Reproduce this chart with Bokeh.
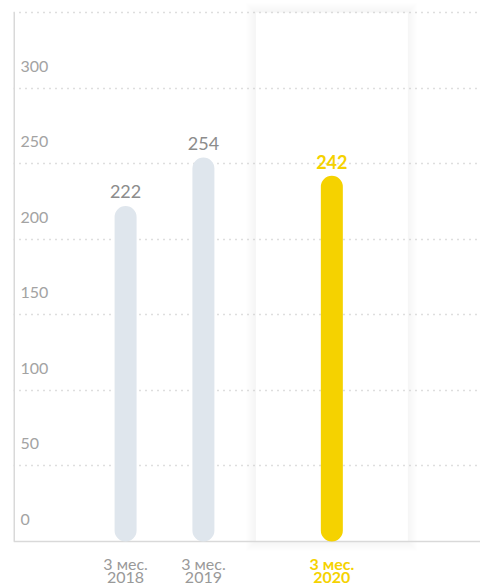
from bokeh.plotting import figure
from bokeh.models import ColumnDataSource, FactorRange, Range1d
from bokeh.transform import dodge
from bokeh.core.properties import value
from bokeh.embed import file_html
from bokeh.resources import INLINE

# ---- data ----
periods = ["3 мес.", "3 мес.", "3 мес."]
years = ["2018", "2019", "2020"]
values = [222, 254, 242]
ticks = [0, 50, 100, 150, 200, 250, 300]
grid_levels = [50, 100, 150, 200, 250, 300, 350]
current = "2020"

# ---- styles ----
GRAY_BAR = "#dfe6ed"
YELLOW = "#f5d200"
FONT = "Lato"
W, H = 480, 586
LEFT, TOP_PAD, BOTTOM_PAD = 13, 12, 45

factors = ["pad0", "2018", "2019", "pad1", "2020", "pad2"]
y_top = grid_levels[-1]
ppu = (H - TOP_PAD - BOTTOM_PAD) / y_top  # pixels per unit

p = figure(width=W, height=H, output_backend="svg", toolbar_location=None,
           x_range=FactorRange(factors=factors, range_padding=0),
           y_range=Range1d(-BOTTOM_PAD / ppu, y_top + TOP_PAD / ppu))
p.min_border_left = LEFT
p.min_border_right = 0
p.min_border_top = 0
p.min_border_bottom = 0
p.outline_line_color = None
p.grid.visible = False
p.xaxis.visible = False
p.yaxis.visible = False
p.background_fill_color = "white"
p.border_fill_color = "white"

past_idx = [i for i, y in enumerate(years) if y != current]
cur_idx = [i for i, y in enumerate(years) if y == current]

def make_src(idx):
    return ColumnDataSource(dict(year=[years[i] for i in idx],
                                 period=[periods[i] for i in idx],
                                 val=[values[i] for i in idx],
                                 label=[str(values[i]) for i in idx],
                                 base=[0] * len(idx),
                                 top=[y_top] * len(idx)))

past = make_src(past_idx)
cur = make_src(cur_idx)

unit = (W - LEFT) / len(factors)  # px per factor
past_x = dodge("year", -0.06, range=p.x_range)
cur_x = dodge("year", -0.41, range=p.x_range)

# highlight panel with soft shadow
panel_w = 152 / unit
for k in range(1, 11):
    p.vbar(x=cur_x, bottom=-k / ppu, top=y_top + k / ppu, width=panel_w + 2 * k / unit,
           source=cur, fill_color="black", fill_alpha=0.0035, line_color=None)
p.vbar(x=cur_x, bottom="base", top="top", width=panel_w, source=cur,
       fill_color="white", line_color=None)

# dotted grid lines
p.hspan(y=grid_levels, line_color="#bdbdbd", line_width=1.4, line_dash="1 5")

# axis lines
p.hspan(y=[0], line_color="#d9d9d9", line_width=1.5)
p.segment(x0=[0], y0=[0], x1=[0], y1=[y_top], line_color="#d9d9d9", line_width=3)

# bars
bar_w = 22 / unit
p.vbar(x=past_x, bottom="base", top="val", width=bar_w, source=past,
       fill_color=GRAY_BAR, line_color=None, border_radius=11)
p.vbar(x=cur_x, bottom="base", top="val", width=bar_w, source=cur,
       fill_color=YELLOW, line_color=None, border_radius=11)

# value labels
p.text(x=past_x, y="val", text="label", source=past, text_align="center",
       text_baseline="alphabetic", y_offset=-14, text_font=value(FONT),
       text_font_size="18px", text_color="#8c8c8c")
p.text(x=cur_x, y="val", text="label", source=cur, text_align="center",
       text_baseline="alphabetic", y_offset=-14, text_font=value(FONT),
       text_font_size="18px", text_color=YELLOW, text_font_style="bold")

# y tick labels inside plot
tick_src = ColumnDataSource(dict(x=["pad0"] * len(ticks), y=ticks,
                                 t=[str(t) for t in ticks]))
p.text(x="x", y="y", text="t", source=tick_src, x_offset=-32, y_offset=-22,
       text_align="left", text_baseline="middle", text_font=value(FONT),
       text_font_size="16px", text_color="#a3a3a3")

# x labels below baseline
for src, xs, color, style in ((past, past_x, "#999999", "normal"),
                              (cur, cur_x, YELLOW, "bold")):
    p.text(x=xs, y="base", text="period", source=src, y_offset=22,
           text_align="center", text_baseline="middle", text_font=value(FONT),
           text_font_size="16px", text_color=color, text_font_style=style)
    p.text(x=xs, y="base", text="year", source=src, y_offset=36,
           text_align="center", text_baseline="middle", text_font=value(FONT),
           text_font_size="16px", text_color=color, text_font_style=style)

open("out.html", "w").write(file_html(p, INLINE))
